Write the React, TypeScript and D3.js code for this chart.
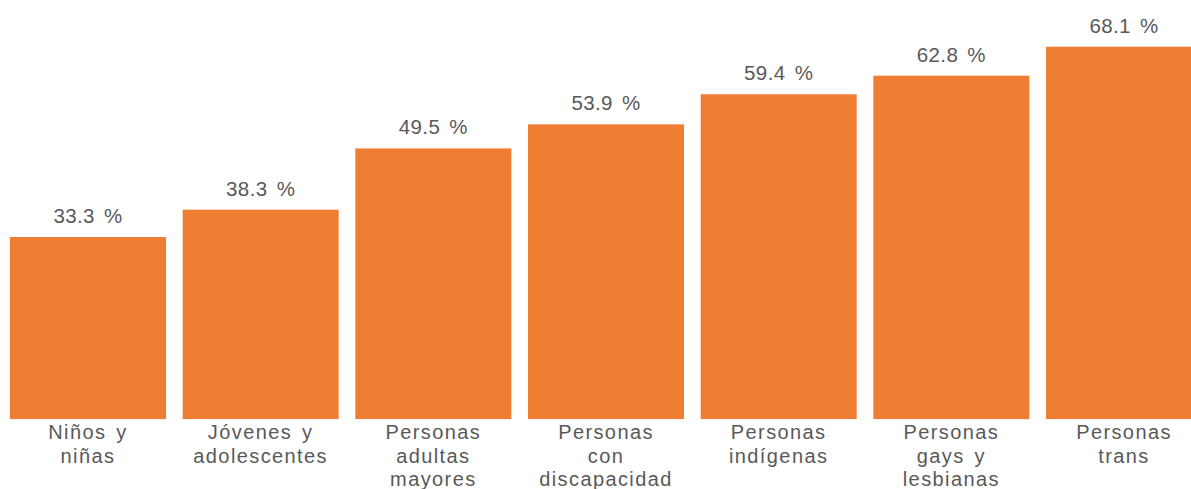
import React from "react";
import * as d3 from "d3";

const categories: string[][] = [
  ["Niños y", "niñas"],
  ["Jóvenes y", "adolescentes"],
  ["Personas", "adultas", "mayores"],
  ["Personas", "con", "discapacidad"],
  ["Personas", "indígenas"],
  ["Personas", "gays y", "lesbianas"],
  ["Personas", "trans"],
];
const values: number[] = [33.3, 38.3, 49.5, 53.9, 59.4, 62.8, 68.1];

const W = 1191;
const H = 489;
const BAR = "#F07E32";
const TEXT = "#595959";
const FONT = "'Liberation Sans', Arial, sans-serif";

export default function App() {
  const idx = values.map((_, i) => String(i));
  const x = d3.scaleBand<string>().domain(idx).range([10, 1202]).paddingInner(0.0965).paddingOuter(0);
  const y = d3.scaleLinear().domain([0, 68.1]).range([419.1, 46.7]);

  return (
    <svg
      width={W}
      height={H}
      style={{ position: "absolute", left: 0, top: 0, background: "#fff" }}
      fontFamily={FONT}
    >
      {values.map((v, i) => {
        const bx = x(String(i))!;
        const bw = x.bandwidth();
        const cx = bx + bw / 2;
        return (
          <g key={i}>
            <rect x={bx} y={y(v)} width={bw} height={y(0) - y(v)} fill={BAR} />
            <text
              x={cx}
              y={y(v) - 14}
              textAnchor="middle"
              fontSize={20.5}
              fill={TEXT}
              letterSpacing={0.4}
              wordSpacing={3}
            >
              {`${v.toFixed(1)} %`}
            </text>
            {categories[i].map((line, j) => (
              <text
                key={j}
                x={cx}
                y={439.3 + j * 23.5}
                textAnchor="middle"
                fontSize={20}
                fill={TEXT}
                letterSpacing={1.4}
                wordSpacing={3}
              >
                {line}
              </text>
            ))}
          </g>
        );
      })}
    </svg>
  );
}
